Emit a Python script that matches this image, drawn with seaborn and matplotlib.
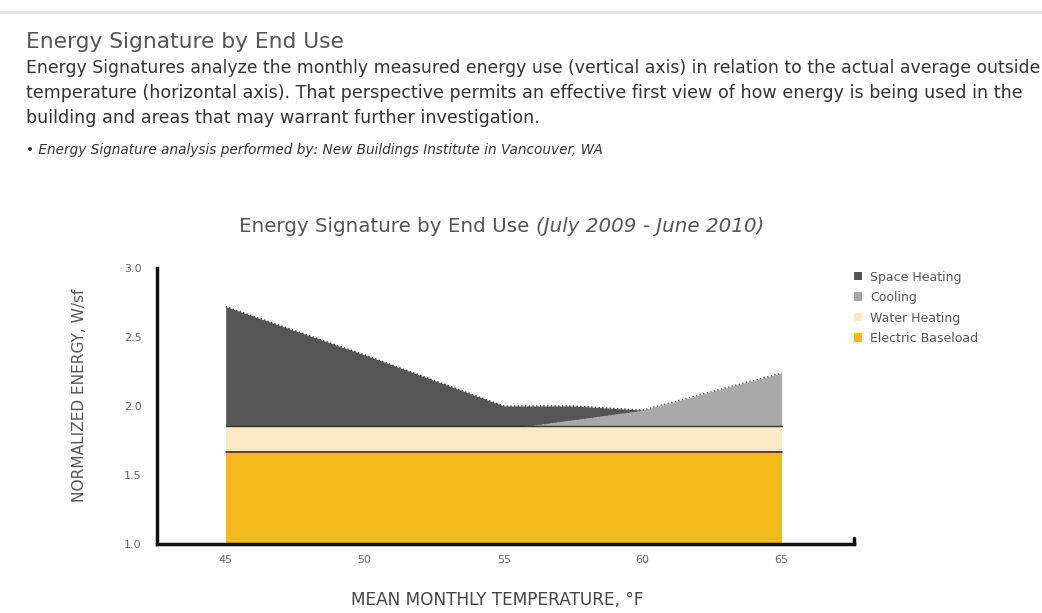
import matplotlib
matplotlib.use("Agg")
import matplotlib.pyplot as plt
import seaborn as sns
import pandas as pd
from matplotlib.lines import Line2D
from matplotlib.patches import Patch

# values
temps = [45, 50, 55, 60, 65]
baseload_top = [1.67, 1.67, 1.67, 1.67, 1.67]
water_top = [1.855, 1.855, 1.855, 1.855, 1.855]
heating_temps = [45, 50, 55, 57.5, 60]
heating_top = [2.72, 2.37, 2.00, 2.00, 1.97]
cooling_temps = [55.8, 60, 65]
cooling_top = [1.855, 1.97, 2.24]

series = ["Space Heating", "Cooling", "Water Heating", "Electric Baseload"]
colors = ["#555555", "#a9a9a9", "#fbe9c6", "#f2bb1b"]

y_ticks = [1.0, 1.5, 2.0, 2.5, 3.0]
y_ticklabels = ["1.0", "1.5", "2.0", "2.5", "3.0"]

W, H = 1042, 613

sns.set_theme(style="white")
plt.rcParams["font.family"] = ["DejaVu Sans"]

fig = plt.figure(figsize=(W / 100, H / 100), dpi=100)
ax = fig.add_axes([157 / W, 1 - 544 / H, 697 / W, 276 / H])


def fit(t, size_px, vertical=False):
    # scale a text's font size so it covers the given pixel length
    r = fig.canvas.get_renderer()
    bb = t.get_window_extent(r)
    cur = bb.height if vertical else bb.width
    t.set_fontsize(t.get_fontsize() * size_px / cur)


def ftext(x, y, s, **kw):
    return fig.text(x / W, 1 - y / H, s, **kw)


# stacked fills
ax.fill_between(temps, 1.0, baseload_top, color=colors[3], lw=0, zorder=2)
ax.fill_between(temps, baseload_top, water_top, color=colors[2], lw=0, zorder=2)
ax.fill_between(heating_temps, 1.855, heating_top, color=colors[0], lw=0, zorder=2)
ax.fill_between(cooling_temps, 1.855, cooling_top, color=colors[1], lw=0, zorder=3)

# boundary lines
edges = pd.DataFrame({"t": temps, "base": baseload_top, "water": water_top})
sns.lineplot(data=edges, x="t", y="base", color="#3a2e10", lw=1.2, ax=ax, zorder=4)
sns.lineplot(data=edges, x="t", y="water", color="#333333", lw=1.0, ax=ax, zorder=4)
sns.lineplot(x=heating_temps, y=heating_top, color="#333333", lw=1.0, ls=":", ax=ax, zorder=4)
sns.lineplot(x=cooling_temps, y=cooling_top, color="#555555", lw=1.0, ls=":", ax=ax, zorder=4)

ax.set_xlim(42.53, 67.6)
ax.set_ylim(1.0, 3.0)
ax.set_xticks(temps)
ax.set_xticklabels([str(t) for t in temps])
ax.set_yticks(y_ticks)
ax.set_yticklabels(y_ticklabels)
ax.tick_params(axis="y", direction="in", length=17, width=2.5, color="#111111",
               labelsize=8, labelcolor="#666666", pad=11)
ax.tick_params(axis="x", length=0, labelsize=8, labelcolor="#666666", pad=8)
for s in ["top", "right"]:
    ax.spines[s].set_visible(False)
for s in ["left", "bottom"]:
    ax.spines[s].set_linewidth(2.5)
    ax.spines[s].set_color("#111111")
ax.plot([1, 1], [0, 0.02], transform=ax.transAxes, color="#111111", lw=2.5, clip_on=False)
ax.set_xlabel("")
ax.set_ylabel("")

# axis titles
xl = ftext(497, 600, "MEAN MONTHLY TEMPERATURE, °F", fontsize=9, color="#444444",
           ha="center", va="center")
yl = ftext(80, 395, "NORMALIZED ENERGY, W/sf", fontsize=9, color="#555555",
           ha="center", va="center", rotation=90)

handles = [Patch(facecolor=c, edgecolor="none") for c in colors]
leg = fig.legend(handles, series, loc="upper left", bbox_to_anchor=(0.809, 0.577),
                 frameon=False, fontsize=9.0, handlelength=0.65, handleheight=0.65,
                 handletextpad=0.65, labelspacing=0.6)
for t in leg.get_texts():
    t.set_color("#555555")

# page text
fig.add_artist(Line2D([0, 1], [1 - 12 / H, 1 - 12 / H], color="#e6e6e6", lw=2.5))
hd = ftext(26, 42, "Energy Signature by End Use", fontsize=12, color="#555555", va="center")
para = ["Energy Signatures analyze the monthly measured energy use (vertical axis) in relation to the actual average outside",
        "temperature (horizontal axis). That perspective permits an effective first view of how energy is being used in the",
        "building and areas that may warrant further investigation."]
lines = [ftext(26, 68 + i * 25, line, fontsize=10, color="#333333", va="center")
         for i, line in enumerate(para)]
note = ftext(26, 150, "• Energy Signature analysis performed by: New Buildings Institute in Vancouver, WA",
             fontsize=7, style="italic", color="#333333", va="center")

t1 = ftext(239, 227, "Energy Signature by End Use ", fontsize=10.5, color="#555555", va="center")
t2 = ftext(500, 227, "(July 2009 - June 2010)", fontsize=10.5, style="italic",
           color="#555555", va="center")

fig.canvas.draw()
fit(hd, 316)
fit(lines[1], 994)
lines[2].set_fontsize(lines[1].get_fontsize())
fit(lines[0], 1012)
fit(note, 580)
fit(xl, 293)
fit(yl, 215, vertical=True)

# title: fit both parts together, then place the italic part after the first
r = fig.canvas.get_renderer()
tot = t1.get_window_extent(r).width + t2.get_window_extent(r).width
for t in (t1, t2):
    t.set_fontsize(t.get_fontsize() * 526 / tot)
fig.canvas.draw()
bb = t1.get_window_extent(fig.canvas.get_renderer())
t2.set_x(bb.x1 / W)

fig.savefig("out.png", dpi=100, facecolor="white")
